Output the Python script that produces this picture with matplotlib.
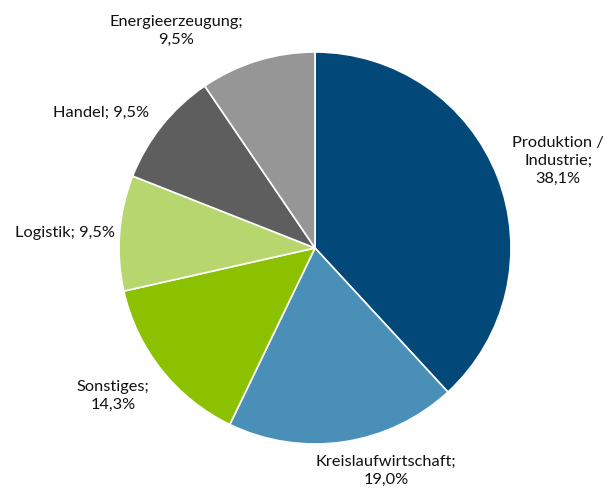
import matplotlib
matplotlib.use("Agg")
import matplotlib.pyplot as plt

# Sector shares (percent), drawn clockwise from 12 o'clock
categories = ["Produktion /\nIndustrie", "Kreislaufwirtschaft", "Sonstiges",
              "Logistik", "Handel", "Energieerzeugung"]
shares = [38.1, 19.0, 14.3, 9.5, 9.5, 9.5]
colors = ["#02497A", "#4A8FB8", "#8CC100", "#B7D76E", "#5E5E5E", "#969696"]

# Separator between name and value; label anchors in data units (pie radius = 1)
label_sep = [";\n", ";\n", ";\n", "; ", "; ", ";\n"]
label_pos = [(1.240, 0.444), (0.362, -1.138), (-1.031, -0.755),
             (-1.278, 0.077), (-1.092, 0.689), (-0.709, 1.107)]

plt.rcParams["font.family"] = ["Lato", "DejaVu Sans"]

W, H = 610, 491
fig = plt.figure(figsize=(W / 100, H / 100), dpi=100)
cx, cy, r = 315, 248, 196
ax = fig.add_axes([(cx - r) / W, (H - cy - r) / H, 2 * r / W, 2 * r / H])

ax.pie(shares, colors=colors, startangle=90, counterclock=False,
       wedgeprops=dict(edgecolor="white", linewidth=1.2))

for name, sep, val, (x, y) in zip(categories, label_sep, shares, label_pos):
    value = f"{val:.1f}%".replace(".", ",")
    ax.text(x, y, f"{name}{sep}{value}", ha="center", va="center",
            fontsize=11.8, color="#111111", linespacing=1.4)

ax.set_xlim(-1, 1)
ax.set_ylim(-1, 1)
ax.axis("off")
fig.savefig("out.png", dpi=100, facecolor="white")
